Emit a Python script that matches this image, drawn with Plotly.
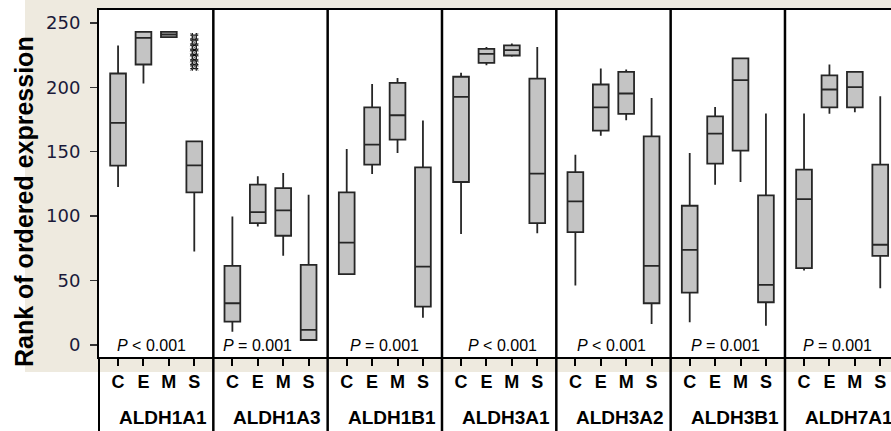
import plotly.graph_objects as go

# ---------------- data ----------------
genes = ["ALDH1A1", "ALDH1A3", "ALDH1B1", "ALDH3A1", "ALDH3A2", "ALDH3B1", "ALDH7A1"]
groups = ["C", "E", "M", "S"]
p_labels = ["<i>P</i> < 0.001", "<i>P</i> = 0.001", "<i>P</i> = 0.001", "<i>P</i> < 0.001",
            "<i>P</i> < 0.001", "<i>P</i> = 0.001", "<i>P</i> = 0.001"]

# per gene: values for C, E, M, S
whisker_low = [
    [122.6, 203.0, 239.0, 72.5],
    [10.3, 92.0, 69.2, 3.9],
    [55.0, 132.7, 149.1, 21.2],
    [86.1, 217.2, 223.7, 86.8],
    [46.1, 162.5, 174.4, 16.3],
    [17.6, 124.4, 126.5, 15.0],
    [57.8, 179.4, 180.7, 44.0],
]
q1 = [
    [139.2, 217.7, 239.0, 118.4],
    [18.1, 94.6, 84.8, 3.9],
    [55.0, 140.0, 159.4, 29.8],
    [126.5, 219.0, 224.7, 94.6],
    [87.6, 166.4, 179.4, 32.4],
    [40.7, 140.7, 150.9, 33.2],
    [59.6, 184.5, 184.5, 69.2],
]
median = [
    [172.4, 238.3, 241.0, 139.4],
    [32.4, 103.2, 104.5, 11.7],
    [79.5, 155.5, 178.3, 60.9],
    [192.6, 226.0, 228.8, 133.0],
    [111.4, 184.5, 195.2, 61.4],
    [73.9, 164.1, 205.6, 46.7],
    [113.3, 198.3, 200.1, 77.8],
]
q3 = [
    [210.7, 243.0, 243.0, 158.0],
    [61.4, 124.4, 121.7, 62.2],
    [118.4, 184.5, 203.4, 137.9],
    [208.2, 229.9, 232.5, 206.8],
    [134.2, 202.2, 212.0, 162.0],
    [108.1, 177.5, 222.4, 116.1],
    [136.1, 209.2, 212.0, 140.0],
]
whisker_high = [
    [232.5, 243.0, 243.0, 158.0],
    [99.8, 130.9, 133.5, 116.6],
    [152.1, 202.6, 207.3, 174.2],
    [211.3, 231.2, 234.0, 231.2],
    [147.7, 214.6, 213.8, 191.8],
    [149.1, 184.8, 222.4, 179.6],
    [179.6, 217.7, 212.0, 193.1],
]
# outliers (ALDH1A1, group S)
outlier_gene = 0
outlier_group = 3
outliers = [239, 235, 231, 227, 223, 219, 216]

y_ticks = [0, 50, 100, 150, 200, 250]

# ---------------- layout helpers ----------------
PANEL = 4.5
FIRST = 0.75
W, H = 891, 431
ML, MR, MT, MB = 99, 0, 10, 74
plot_w = W - ML - MR
plot_h = H - MT - MB
panel_px = 114.33
xmax = plot_w / panel_px * PANEL
p_text_offset = [0.63, 0.3, 0.8, 0.94, 0.74, 0.72, 0.63]   # label inset inside each panel

def pos(i, j):
    return i * PANEL + FIRST + j

xs, lo, a1, md, a3, hi = [], [], [], [], [], []
for i in range(len(genes)):
    for j in range(len(groups)):
        xs.append(pos(i, j))
        lo.append(whisker_low[i][j]); a1.append(q1[i][j]); md.append(median[i][j])
        a3.append(q3[i][j]); hi.append(whisker_high[i][j])

fig = go.Figure()
fig.add_trace(go.Box(
    x=xs, q1=a1, median=md, q3=a3, lowerfence=lo, upperfence=hi,
    width=0.62, whiskerwidth=0, boxpoints=False,
    fillcolor="#C4C4C4", line=dict(color="#262626", width=1.8),
    showlegend=False, hoverinfo="skip",
))
fig.add_trace(go.Scatter(
    x=[pos(outlier_gene, outlier_group)] * len(outliers), y=outliers,
    mode="markers", marker=dict(symbol="hash-open", size=8, color="#111111",
                                line=dict(color="#111111", width=1.3)),
    showlegend=False, hoverinfo="skip",
))
fig.add_trace(go.Scatter(
    x=[pos(outlier_gene, outlier_group)] * len(outliers), y=outliers,
    mode="markers", marker=dict(symbol="x-thin-open", size=8, color="#555555",
                                line=dict(color="#555555", width=0.8)),
    showlegend=False, hoverinfo="skip",
))

def py_to_paper(py):
    return (H - MB - py) / plot_h

def px_to_paper(px):
    return (px - ML) / plot_w

shapes = [
    dict(type="rect", xref="paper", yref="paper", x0=px_to_paper(25), x1=1.0,
         y0=py_to_paper(372), y1=py_to_paper(0), fillcolor="#EEEADF",
         line=dict(width=0), layer="below"),
    dict(type="rect", xref="paper", yref="paper", x0=0, x1=1.0, y0=0, y1=1,
         fillcolor="white", line=dict(width=0), layer="below"),
    dict(type="line", xref="paper", yref="paper", x0=0, x1=0,
         y0=py_to_paper(H), y1=0, line=dict(color="black", width=2)),
]
for k in range(1, len(genes)):
    xp = k * PANEL / xmax
    shapes.append(dict(type="line", xref="paper", yref="paper", x0=xp, x1=xp,
                       y0=py_to_paper(H), y1=1, line=dict(color="black", width=2.5)))

annotations = []
for i, g in enumerate(genes):
    annotations.append(dict(
        x=(i * PANEL + PANEL / 2) / xmax + 7 / plot_w, y=py_to_paper(417),
        xref="paper", yref="paper",
        text=g, showarrow=False, xanchor="center", yanchor="middle",
        font=dict(family="Liberation Sans, Arial", size=19, color="black", weight="bold"),
    ))
    annotations.append(dict(
        x=i * PANEL + p_text_offset[i], y=0, xref="x", yref="y", text=p_labels[i],
        showarrow=False, xanchor="left", yanchor="middle",
        font=dict(family="Liberation Sans, Arial", size=16, color="black"),
    ))
annotations.append(dict(
    x=px_to_paper(24), y=py_to_paper(202), xref="paper", yref="paper",
    text="Rank of ordered expression", textangle=-90, showarrow=False,
    xanchor="center", yanchor="middle",
    font=dict(family="Liberation Sans, Arial", size=25, color="black", weight="bold"),
))

fig.update_layout(
    width=W, height=H, margin=dict(l=ML, r=MR, t=MT, b=MB, pad=0),
    paper_bgcolor="white", plot_bgcolor="white",
    shapes=shapes, annotations=annotations,
    xaxis=dict(range=[0, xmax], tickvals=xs, ticktext=groups * len(genes),
               ticks="outside", ticklen=7, tickwidth=2, tickcolor="black",
               tickfont=dict(family="Liberation Sans, Arial", size=18, color="black", weight="bold"),
               ticklabelstandoff=0,
               showline=True, linewidth=2, linecolor="black", mirror=True,
               showgrid=False, zeroline=False, fixedrange=True),
    yaxis=dict(range=[-9.3, 260], tickvals=y_ticks,
               ticks="outside", ticklen=7, tickwidth=1.5, tickcolor="#333333",
               tickfont=dict(family="DejaVu Sans", size=18, color="#1a1a3a"),
               ticklabelstandoff=6,
               showline=True, linewidth=2, linecolor="black", mirror=False,
               showgrid=False, zeroline=False, fixedrange=True),
)

fig.write_html("out.html", config={"staticPlot": True},
               post_script="document.body.style.margin='0';document.body.style.overflow='hidden';")
